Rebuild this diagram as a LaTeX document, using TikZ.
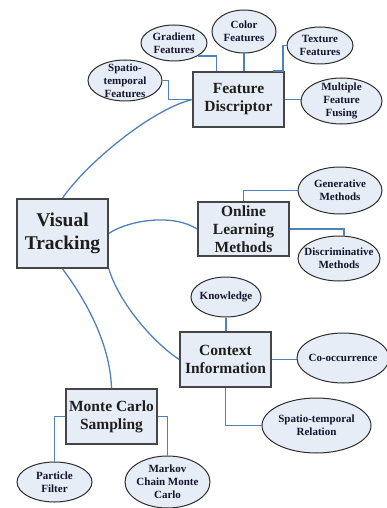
\documentclass[tikz,border=0pt]{standalone}
\usepackage{fontspec}
\setmainfont{Liberation Serif}
\usetikzlibrary{shapes.geometric,calc}
\definecolor{linkblue}{RGB}{79,129,189}
\definecolor{fillc}{RGB}{231,237,246}
\definecolor{boxline}{RGB}{70,70,70}
\definecolor{elline}{RGB}{45,45,45}
\definecolor{etxt}{RGB}{20,20,45}
\definecolor{btxt}{RGB}{30,30,30}
\tikzset{
  box/.style={draw=boxline, line width=1.7pt, fill=fillc, align=center, inner sep=0pt,
    text=btxt, font=\fontsize{15.5}{18}\selectfont\bfseries},
  bigbox/.style={box, font=\fontsize{19.5}{23}\selectfont\bfseries},
  ell/.style={ellipse, draw=elline, line width=1pt, fill=fillc, inner sep=0pt},
  etext/.style={align=center, inner sep=0pt, text=etxt, font=\fontsize{11}{13}\selectfont\bfseries},
  link/.style={draw=linkblue, line width=1.3pt},
}
\begin{document}
\begin{tikzpicture}[x=1pt,y=-1pt]
\useasboundingbox (0,0) rectangle (387,508);
% boxes
\node[bigbox, minimum width=91pt, minimum height=69pt] (vt) at (62.5,233.5) {Visual\\Tracking};
\node[box, minimum width=91pt, minimum height=55pt] (fd) at (238.5,99.5) {Feature\\Discriptor};
\node[box, minimum width=91pt, minimum height=54pt] (ol) at (243.5,229) {Online\\Learning\\Methods};
\node[box, minimum width=91pt, minimum height=55pt] (ci) at (225.5,359.5) {Context\\Information};
\node[box, minimum width=91pt, minimum height=55pt] (mc) at (111.5,416.5) {Monte Carlo\\Sampling};
% ellipses
\node[ell, minimum width=66pt, minimum height=36pt, label={[etext]center:{Gradient\\Features}}] (gf) at (174,43) {};
\node[ell, minimum width=64pt, minimum height=43pt, label={[etext]center:{Color\\Features}}] (cf) at (244,31.5) {};
\node[ell, minimum width=66pt, minimum height=37pt, label={[etext]center:{Texture\\Features}}] (tf) at (320,45.5) {};
\node[ell, minimum width=74pt, minimum height=41pt, label={[etext]center:{Spatio-\\temporal\\Features}}] (sf) at (125,80.5) {};
\node[ell, minimum width=81pt, minimum height=46pt, label={[etext]center:{Multiple\\Feature\\Fusing}}] (mf) at (341.5,101) {};
\node[ell, minimum width=84pt, minimum height=47pt, label={[etext]center:{Generative\\Methods}}] (gm) at (340,190.5) {};
\node[ell, minimum width=82pt, minimum height=45pt, label={[etext]center:{Discriminative\\Methods}}] (dm) at (339,258.5) {};
\node[ell, minimum width=70pt, minimum height=40pt, label={[etext]center:{Knowledge}}] (kn) at (226,297) {};
\node[ell, minimum width=92pt, minimum height=50pt, label={[etext]center:{Co-occurrence}}] (co) at (343,358) {};
\node[ell, minimum width=109pt, minimum height=55pt, label={[etext]center:{Spatio-temporal\\Relation}}] (sr) at (316.5,425.5) {};
\node[ell, minimum width=75pt, minimum height=40pt, label={[etext]center:{Particle\\Filter}}] (pf) at (54.5,482) {};
\node[ell, minimum width=85pt, minimum height=52pt, label={[etext]center:{Markov\\Chain Monte\\Carlo}}] (mk) at (167.5,482) {};
% curved links from Visual Tracking
\draw[link] (vt.north) .. controls (85,165) and (150,110) .. (fd.west);
\draw[link] (vt.east) .. controls (125,222) and (170,212) .. (ol.west);
\draw[link] (vt.south east) .. controls (118,300) and (150,340) .. (ci.west);
\draw[link] (vt.south) .. controls (82,295) and (110,340) .. (mc.north);
% feature links
\draw[link] (gf.south east) -| ([xshift=24pt]fd.north west);
\draw[link] (cf.south) -- (cf.south |- fd.north);
\draw[link] (tf.west) -| ([xshift=-2pt]fd.north east) -- ([xshift=-12pt]fd.north east);
\draw[link] (sf.east) -- ++(6,0) |- (fd.west);
\draw[link] (fd.east) -- (fd.east -| mf.west);
% online learning links
\draw[link] (ol.north) |- (gm.west);
\draw[link] (ol.east) -| ([xshift=5pt]dm.north);
% context links
\draw[link] (kn.south) -- (kn.south |- ci.north);
\draw[link] (ci.east) -- (ci.east -| co.west);
\draw[link] (ci.south) |- (sr.west);
% monte carlo links
\draw[link] (mc.west) -| (pf.north);
\draw[link] (mc.east) -| (mk.north);
\end{tikzpicture}
\end{document}
